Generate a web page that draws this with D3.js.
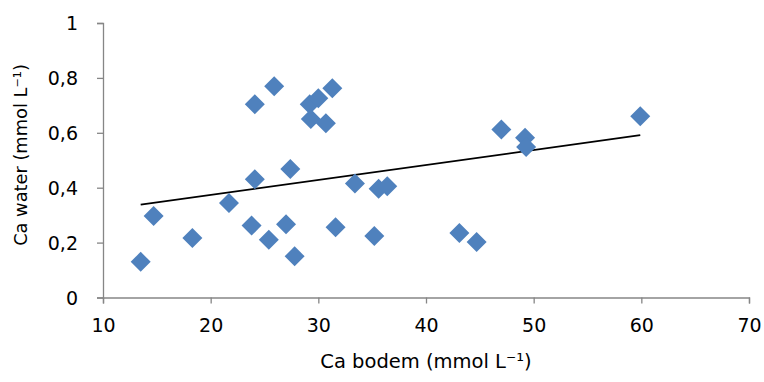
<!DOCTYPE html>
<html>
<head>
<meta charset="utf-8">
<script src="https://cdn.jsdelivr.net/npm/d3@7"></script>
<style>
  body { margin: 0; background: #fff; }
  svg text { font-family: "DejaVu Sans", sans-serif; fill: #000; }
  .axis path, .axis line { stroke: #868686; stroke-width: 1.3; }
</style>
</head>
<body>
<div id="chart--wrap"></div>
<script>
// Ca bodem (x) vs Ca water (y)
const caBodem = [13.5, 14.7, 18.3, 21.7, 24.1, 24.1, 23.8, 25.4, 25.9, 27.0, 27.4, 27.8, 29.2, 30.0,
  29.3, 30.7, 31.3, 31.6, 33.4, 35.2, 35.6, 36.4, 43.1, 44.7, 47.0, 49.2, 49.3, 59.9];
const caWater = [0.13, 0.297, 0.217, 0.344, 0.704, 0.431, 0.262, 0.210, 0.770, 0.267, 0.468, 0.150, 0.704, 0.726,
  0.650, 0.635, 0.762, 0.256, 0.415, 0.224, 0.396, 0.405, 0.235, 0.202, 0.612, 0.582, 0.548, 0.660];
const xTicks = [10, 20, 30, 40, 50, 60, 70];
const yTicks = [0, 0.2, 0.4, 0.6, 0.8, 1];

const W = 764, H = 382;
const margin = { top: 23, right: 15, bottom: 84, left: 103 };
const width = 749 - margin.left;
const height = 297.5 - margin.top;

const svg = d3.select('#chart--wrap').append('svg')
  .attr('width', W)
  .attr('height', H);

const group = svg.append('g')
  .attr('transform', `translate(${margin.left}, ${margin.top})`);

const x = d3.scaleLinear().domain([10, 70]).range([0, width]);
const y = d3.scaleLinear().domain([0, 1]).range([height, 0]);

const fmt = d => d === 0 || d === 1 ? String(d) : d3.format('.1f')(d).replace('.', ',');

// Y axis
const yAx = group.append('g')
  .attr('class', 'axis')
  .call(d3.axisLeft(y).tickValues(yTicks).tickFormat(fmt).tickSize(6).tickSizeOuter(6));
yAx.selectAll('text').attr('x', -25).attr('dy', '0.36em').style('font-size', '19px');

// X axis
const xAx = group.append('g')
  .attr('class', 'axis')
  .attr('transform', `translate(0, ${height})`)
  .call(d3.axisBottom(x).tickValues(xTicks).tickFormat(d3.format('d')).tickSize(6).tickSizeOuter(6));
xAx.selectAll('text').attr('y', 21).style('font-size', '19px');

// Linear trendline (least squares)
const n = caBodem.length;
const mx = d3.mean(caBodem), my = d3.mean(caWater);
let sxy = 0, sxx = 0;
for (let i = 0; i < n; i++) {
  sxy += (caBodem[i] - mx) * (caWater[i] - my);
  sxx += (caBodem[i] - mx) ** 2;
}
const slope = sxy / sxx;
const icpt = my - slope * mx;
const xr = d3.extent(caBodem);

group.append('line')
  .attr('x1', x(xr[0])).attr('y1', y(icpt + slope * xr[0]))
  .attr('x2', x(xr[1])).attr('y2', y(icpt + slope * xr[1]))
  .style('stroke', '#000')
  .style('stroke-width', 1.8);

// Points
const points = caBodem.map((d, i) => ({ x: d, y: caWater[i] }));
const diamond = d3.symbol(d3.symbolSquare).size(200);

group.selectAll('.pt')
  .data(points)
  .enter()
  .append('path')
  .attr('class', 'pt')
  .attr('d', diamond)
  .attr('transform', d => `translate(${x(d.x)}, ${y(d.y)}) rotate(45)`)
  .style('fill', '#4F81BD');

// Axis titles
svg.append('text')
  .attr('x', 426)
  .attr('y', 368)
  .attr('text-anchor', 'middle')
  .style('font-size', '19.5px')
  .text('Ca bodem (mmol L\u207B\u00B9)');

svg.append('text')
  .attr('transform', 'translate(27, 155) rotate(-90)')
  .attr('text-anchor', 'middle')
  .style('font-size', '17.8px')
  .text('Ca water (mmol L\u207B\u00B9)');
</script>
</body>
</html>
